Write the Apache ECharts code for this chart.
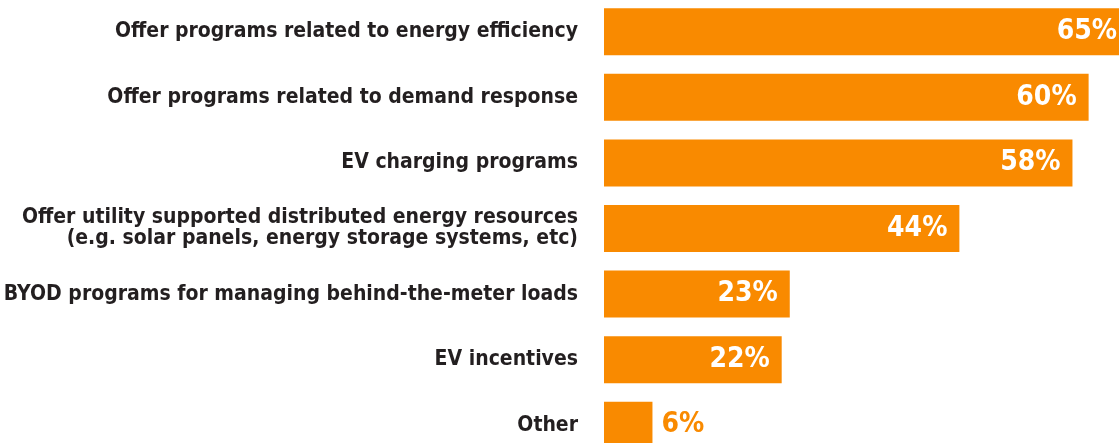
<!DOCTYPE html>
<html>
<head>
<meta charset="utf-8">
<script src="https://cdn.jsdelivr.net/npm/echarts@6/dist/echarts.min.js"></script>
<style>
  html, body { margin: 0; padding: 0; background: #fff; }
  #chart { width: 1119px; height: 443px; }
</style>
</head>
<body>
<div id="chart"></div>
<script>
var categories = [
  'Offer programs related to energy efficiency',
  'Offer programs related to demand response',
  'EV charging programs',
  'Offer utility supported distributed energy resources\n(e.g. solar panels, energy storage systems, etc)',
  'BYOD programs for managing behind-the-meter loads',
  'EV incentives',
  'Other'
];
var values = [65, 60, 58, 44, 23, 22, 6];

var FONT = '"Liberation Sans Narrow", "Arial Narrow", "DejaVu Sans Condensed", sans-serif';
var ORANGE = '#f98a00';

var mychart = echarts.init(document.getElementById('chart'));
var option = {
  animation: false,
  grid: {
    left: 604, right: -10, top: -1, bottom: -15,
    containLabel: false,
    outerBoundsMode: 'none'
  },
  xAxis: {
    type: 'value', min: 0, max: 65,
    show: false
  },
  yAxis: {
    type: 'category',
    data: categories,
    inverse: true,
    axisLine: { show: false },
    axisTick: { show: false },
    splitLine: { show: false },
    axisLabel: {
      margin: 26,
      color: '#231f20',
      fontFamily: FONT,
      fontWeight: 'bold',
      fontSize: 21,
      lineHeight: 21,
      align: 'right'
    }
  },
  series: [{
    type: 'bar',
    data: values.map(function (v) {
      // small bars get their label outside, in orange
      if (v < 10) {
        return { value: v, label: { position: 'right', color: ORANGE, distance: 9 } };
      }
      return v;
    }),
    barWidth: 47,
    clip: false,
    itemStyle: { color: ORANGE },
    label: {
      show: true,
      position: 'insideRight',
      distance: 12,
      color: '#fff',
      fontFamily: FONT,
      fontWeight: 'bold',
      fontSize: 28,
      formatter: '{c}%'
    }
  }]
};
mychart.setOption(option);
</script>
</body>
</html>
